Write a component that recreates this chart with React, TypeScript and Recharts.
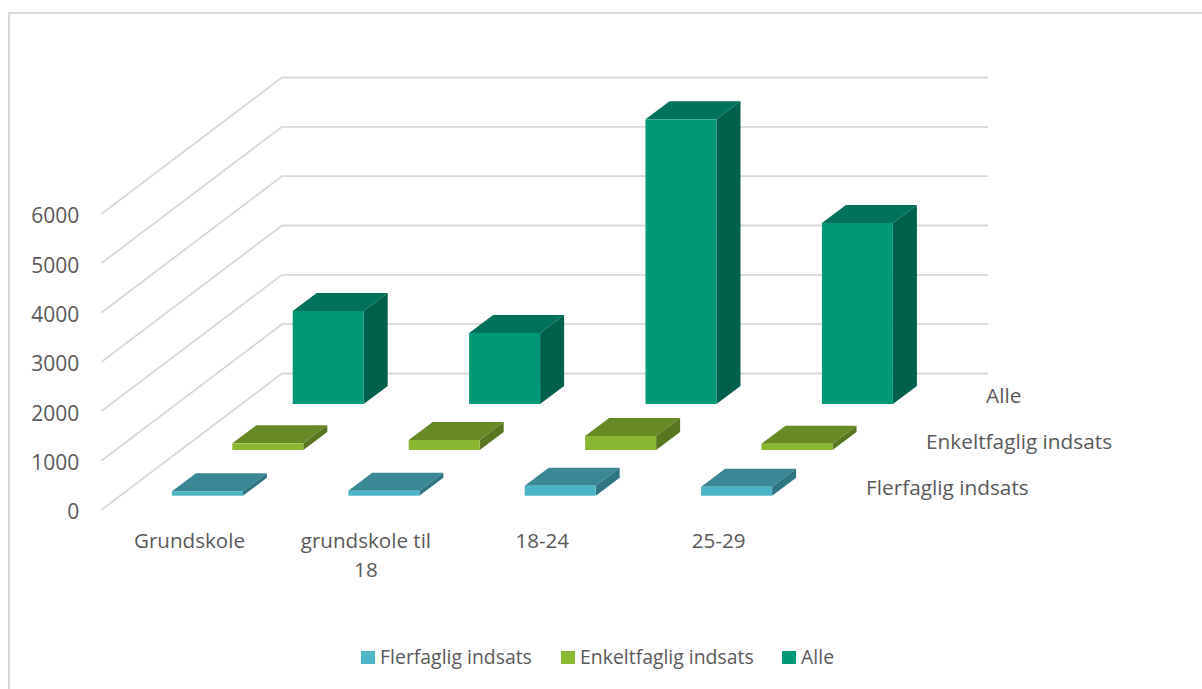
import { BarChart, Bar, XAxis, YAxis, Legend, CartesianGrid } from 'recharts';

const categories = ['Grundskole', 'grundskole til 18', '18-24', '25-29'];
const categoryLines = [['Grundskole'], ['grundskole til', '18'], ['18-24'], ['25-29']];
const flerfaglig = [90, 100, 203, 182];
const enkeltfaglig = [135, 203, 284, 128];
const alle = [1885, 1440, 5770, 3670];
const yTicks = [0, 1000, 2000, 3000, 4000, 5000, 6000];
const seriesNames = ['Flerfaglig indsats', 'Enkeltfaglig indsats', 'Alle'];

const data = categories.map((name, i) => ({
  name,
  [seriesNames[0]]: flerfaglig[i],
  [seriesNames[1]]: enkeltfaglig[i],
  [seriesNames[2]]: alle[i],
}));

const FONT = '"Open Sans", sans-serif';
const TEXT = '#595959';
const GRID = '#D9D9D9';
const BAR_W = 71;
const DEPTH_X = 24;
const DEPTH_Y = -18;

// front, top and side face per series, and how far back on the floor it stands
const looks = [
  { front: '#4AB5C4', top: '#3A8795', side: '#2F7583', dx: 17.6, dy: -14.3 },
  { front: '#8AB833', top: '#688A26', side: '#587520', dx: 78, dy: -60 },
  { front: '#009877', top: '#00715A', side: '#00604B', dx: 138.4, dy: -106 },
];

function Box3D(props: any, look: (typeof looks)[number]) {
  const x = props.x + look.dx;
  const y = props.y + look.dy;
  const w = props.width;
  const h = props.height;
  return (
    <g>
      <polygon
        points={`${x},${y} ${x + DEPTH_X},${y + DEPTH_Y} ${x + w + DEPTH_X},${y + DEPTH_Y} ${x + w},${y}`}
        fill={look.top}
      />
      <polygon
        points={`${x + w},${y} ${x + w + DEPTH_X},${y + DEPTH_Y} ${x + w + DEPTH_X},${y + h + DEPTH_Y} ${x + w},${y + h}`}
        fill={look.side}
      />
      <rect x={x} y={y} width={w} height={h} fill={look.front} />
    </g>
  );
}

// one grid line: up the side wall, then along the back wall
function WallLine(props: any) {
  const { x1, y1 } = props;
  const backX = 282;
  const backY = y1 - 136.5;
  return (
    <polyline
      key={props.key ?? y1}
      points={`${x1},${y1} ${backX},${backY} 988,${backY}`}
      fill="none"
      stroke={GRID}
      strokeWidth={1.8}
    />
  );
}

function CategoryTick({ x, y, payload }: any) {
  const lines = categoryLines[categories.indexOf(payload.value)];
  return (
    <text x={x} y={y + 20} textAnchor="middle" fontFamily={FONT} fontSize={20.6} fill={TEXT}>
      {lines.map((line, i) => (
        <tspan key={line} x={x} dy={i === 0 ? 0 : 29}>
          {line}
        </tspan>
      ))}
    </text>
  );
}

function LegendRow() {
  const spots = [361.3, 561.3, 782.3];
  return (
    <div style={{ position: 'relative', height: 30, width: 1202, fontFamily: FONT, fontSize: 19.4, color: TEXT }}>
      {seriesNames.map((name, i) => (
        <div key={name} style={{ position: 'absolute', left: spots[i], top: 0, whiteSpace: 'nowrap', lineHeight: '24px' }}>
          <span
            style={{ display: 'inline-block', width: 13.3, height: 13.3, background: looks[i].front, marginRight: 5.5 }}
          />
          {name}
        </div>
      ))}
    </div>
  );
}

function DepthLabels() {
  return (
    <g fontFamily={FONT} fontSize={20.8} fill={TEXT}>
      {seriesNames.map((name, i) => (
        <text key={name} x={866 + 60 * i} y={495 - 46 * i}>
          {name}
        </text>
      ))}
    </g>
  );
}

export default function App() {
  return (
    <div style={{ position: 'absolute', left: 0, top: 0, width: 1202, height: 689, overflow: 'hidden', background: '#fff' }}>
      <div style={{ position: 'absolute', left: 8, top: 12, width: 1400, height: 900, border: '2px solid #D9D9D9' }} />
      <BarChart
        width={1202}
        height={689}
        data={data}
        barSize={BAR_W}
        barGap={-BAR_W}
        margin={{ top: 214, right: 395.1, bottom: 89, left: 41.3 }}
        style={{ position: 'absolute', left: 0, top: 0 }}
      >
        <CartesianGrid vertical={false} horizontal={WallLine} horizontalValues={yTicks} />
        <XAxis
          dataKey="name"
          axisLine={false}
          tickLine={false}
          height={60}
          interval={0}
          tick={CategoryTick}
          tickSize={0}
          tickMargin={18}
        />
        <YAxis
          width={60}
          domain={[0, 6000]}
          ticks={yTicks}
          interval={0}
          axisLine={false}
          tickLine={false}
          tickSize={0}
          tickMargin={22}
          tick={{ fontFamily: FONT, fontSize: 21, fill: TEXT, dy: 2 }}
        />
        <Bar dataKey={seriesNames[2]} isAnimationActive={false} fill={looks[2].front} shape={(p: any) => Box3D(p, looks[2])} />
        <Bar dataKey={seriesNames[1]} isAnimationActive={false} fill={looks[1].front} shape={(p: any) => Box3D(p, looks[1])} />
        <Bar dataKey={seriesNames[0]} isAnimationActive={false} fill={looks[0].front} shape={(p: any) => Box3D(p, looks[0])} />
        <DepthLabels />
        <Legend
          height={30}
          content={LegendRow}
          wrapperStyle={{ position: 'absolute', left: 0, top: 645, width: 1202 }}
        />
      </BarChart>
    </div>
  );
}
